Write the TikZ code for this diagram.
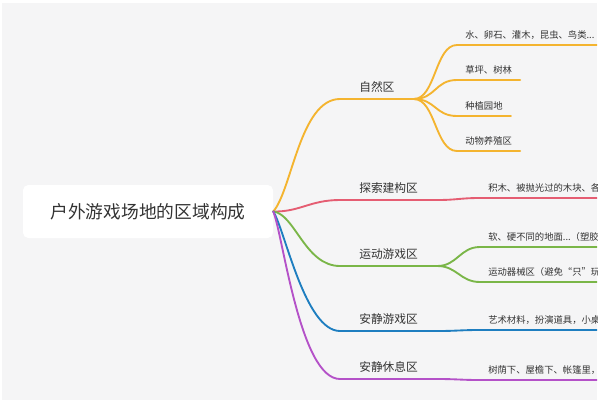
\documentclass[tikz,border=0pt]{standalone}
\usepackage{fontspec}
\setmainfont{Noto Sans CJK SC}
\definecolor{panel}{HTML}{F5F5F6}
\definecolor{txt}{HTML}{333333}
\definecolor{zrcol}{HTML}{F4B42F}
\definecolor{tscol}{HTML}{E55D72}
\definecolor{ydcol}{HTML}{7AB648}
\definecolor{ajycol}{HTML}{1E7EC0}
\definecolor{ajxcol}{HTML}{B451C8}

\begin{document}
\begin{tikzpicture}[x=0.75pt,y=-0.75pt,
  root/.style={fill=white,rounded corners=4pt,minimum width=187.5pt,minimum height=39.75pt,
    font=\fontsize{13.3}{16}\selectfont,text=txt},
  zone/.style={anchor=south west,inner xsep=14.25pt,inner ysep=0pt,minimum height=18pt,
    font=\fontsize{8.8}{10}\selectfont,text=txt},
  item/.style={anchor=south west,inner xsep=6pt,inner ysep=0pt,minimum height=15pt,
    font=\fontsize{7}{8.5}\selectfont,text=txt},
  branch/.style={line width=1.4pt,line cap=round}]
\useasboundingbox (0,0) rectangle (600,404);
\fill[white] (0,0) rectangle (600,404);
\fill[panel] (2,3) rectangle (597,400);
\clip (2,3) rectangle (597,400);

\node[root] (root) at (148,211.5) {户外游戏场地的区域构成};

% first level
\node[zone] (zr)  at (340,99)  {自然区};
\node[zone] (ts)  at (340,200) {探索建构区};
\node[zone] (yd)  at (340,266) {运动游戏区};
\node[zone] (ajy) at (340,331) {安静游戏区};
\node[zone] (ajx) at (340,379) {安静休息区};

% second level
\node[item] (zr1)  at (457,45)  {水、卵石、灌木，昆虫、鸟类...};
\node[item] (zr2)  at (457,80)  {草坪、树林};
\node[item] (zr3)  at (457,116) {种植园地};
\node[item] (zr4)  at (457,151) {动物养殖区};
\node[item] (ts1)  at (480,198) {积木、被抛光过的木块、各};
\node[item] (yd1)  at (480,247) {软、硬不同的地面...（塑胶};
\node[item] (yd2)  at (480,282) {运动器械区（避免“只”玩};
\node[item] (ajy1) at (480,330) {艺术材料，扮演道具，小桌};
\node[item] (ajx1) at (480,380) {树荫下、屋檐下、帐篷里，};

\draw[branch,zrcol] (root.east) .. controls (292,190) and (300,99) .. (zr.south west) -- (zr.south east);
\draw[branch,tscol] (root.east) .. controls (300,212) and (310,200) .. (ts.south west) -- (ts.south east);
\draw[branch,ydcol] (root.east) .. controls (295,214) and (305,266) .. (yd.south west) -- (yd.south east);
\draw[branch,ajycol] (root.east) .. controls (285,230) and (305,331) .. (ajy.south west) -- (ajy.south east);
\draw[branch,ajxcol] (root.east) .. controls (283,235) and (300,379) .. (ajx.south west) -- (ajx.south east);

\foreach \s in {zr1,zr2,zr3,zr4}
  \draw[branch,zrcol] (zr.south east) .. controls +(22,0) and +(-22,0) .. (\s.south west) -- (\s.south east);
\draw[branch,tscol] (ts.south east) .. controls +(20,0) and +(-20,0) .. (ts1.south west) -- (ts1.south east);
\foreach \s in {yd1,yd2}
  \draw[branch,ydcol] (yd.south east) .. controls +(20,0) and +(-20,0) .. (\s.south west) -- (\s.south east);
\draw[branch,ajycol] (ajy.south east) .. controls +(20,0) and +(-20,0) .. (ajy1.south west) -- (ajy1.south east);
\draw[branch,ajxcol] (ajx.south east) .. controls +(20,0) and +(-20,0) .. (ajx1.south west) -- (ajx1.south east);
\end{tikzpicture}
\end{document}
